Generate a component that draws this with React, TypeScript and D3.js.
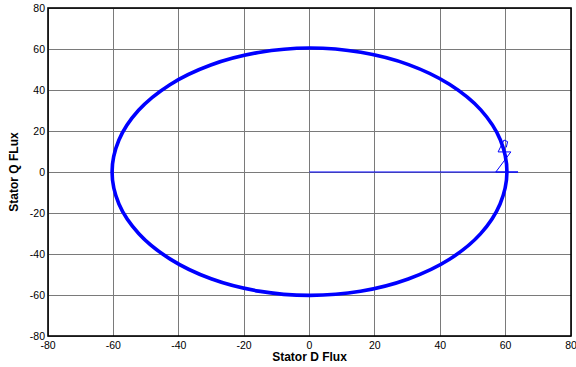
import React, { useEffect, useRef } from 'react'
import * as d3 from 'd3'

// outer flux trajectory (roughly every 15 degrees)
const fluxD = [60.4, 58.4, 52.4, 42.8, 30.3, 15.7, 0, -15.6, -30.2, -42.7, -52.3, -58.3, -60.4, -58.3, -52.2, -42.6, -30.1, -15.6, 0, 15.6, 30.2, 42.7, 52.3, 58.3]
const fluxQ = [0, 15.6, 30.3, 42.8, 52.4, 58.4, 60.5, 58.3, 52.2, 42.6, 30.1, 15.6, 0, -15.6, -30.1, -42.5, -52.1, -58.1, -60.2, -58.2, -52.2, -42.7, -30.2, -15.6]
// start-up transient
const startD = [0, 63.8, 57.0, 61.6, 57.7, 59.5, 60.6, 60.2]
const startQ = [0, 0, 0, 9.8, 9.8, 15.6, 14.8, 12.0]

const ticks = [-80, -60, -40, -20, 0, 20, 40, 60, 80]

const W = 576, H = 367
const margin = { left: 48, right: 5, top: 8, bottom: 31 }

export default function App() {
  const ref = useRef<SVGSVGElement>(null)

  useEffect(() => {
    const svg = d3.select(ref.current)
    svg.selectAll('*').remove()

    const x = d3.scaleLinear().domain([-80, 80]).range([margin.left, W - margin.right])
    const y = d3.scaleLinear().domain([-80, 80]).range([H - margin.bottom, margin.top])

    const g = svg.append('g')

    // grid
    g.selectAll('.gx').data(ticks).enter().append('line')
      .attr('x1', d => x(d)).attr('x2', d => x(d))
      .attr('y1', y(-80)).attr('y2', y(80))
      .attr('stroke', '#7a7a7a').attr('stroke-width', 1)
      .attr('shape-rendering', 'crispEdges')
    g.selectAll('.gy').data(ticks).enter().append('line')
      .attr('y1', d => y(d)).attr('y2', d => y(d))
      .attr('x1', x(-80)).attr('x2', x(80))
      .attr('stroke', '#7a7a7a').attr('stroke-width', 1)
      .attr('shape-rendering', 'crispEdges')

    const line = d3.line<[number, number]>().x(d => x(d[0])).y(d => y(d[1]))

    // start-up line
    g.append('path')
      .datum(startD.map((d, i) => [d, startQ[i]] as [number, number]))
      .attr('d', line)
      .attr('fill', 'none').attr('stroke', '#0000ff').attr('stroke-width', 1)

    // main circle
    g.append('path')
      .datum(fluxD.map((d, i) => [d, fluxQ[i]] as [number, number]))
      .attr('d', line.curve(d3.curveCatmullRomClosed))
      .attr('fill', 'none').attr('stroke', '#0000ff').attr('stroke-width', 3.6)

    // frame
    g.append('rect')
      .attr('x', x(-80)).attr('y', y(80))
      .attr('width', x(80) - x(-80)).attr('height', y(-80) - y(80))
      .attr('fill', 'none').attr('stroke', '#000').attr('stroke-width', 1.6)

    const font = '"Liberation Sans", Arial, sans-serif'

    g.selectAll('.ty').data(ticks).enter().append('text')
      .attr('x', x(-80) - 3).attr('y', d => y(d) + 3.5)
      .attr('text-anchor', 'end')
      .attr('font-family', font).attr('font-size', 10.5)
      .text(d => d)

    g.selectAll('.tx').data(ticks).enter().append('text')
      .attr('x', d => x(d)).attr('y', y(-80) + 13)
      .attr('text-anchor', 'middle')
      .attr('font-family', font).attr('font-size', 10.5)
      .text(d => d)

    g.append('text')
      .attr('x', x(0)).attr('y', H - 6)
      .attr('text-anchor', 'middle')
      .attr('font-family', font).attr('font-size', 12).attr('font-weight', 'bold')
      .text('Stator D Flux')

    g.append('text')
      .attr('transform', `translate(18,${y(0)}) rotate(-90)`)
      .attr('text-anchor', 'middle')
      .attr('font-family', font).attr('font-size', 12).attr('font-weight', 'bold')
      .text('Stator Q FLux')
  }, [])

  return <svg ref={ref} width={W} height={H} style={{ position: 'absolute', left: 0, top: 0, background: '#fff' }} />
}
